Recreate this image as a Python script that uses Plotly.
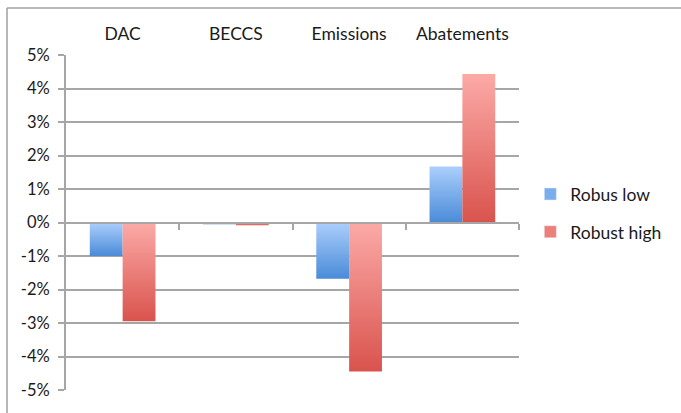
import plotly.graph_objects as go

# Chart data (percent change)
categories = ["DAC", "BECCS", "Emissions", "Abatements"]
series_names = ["Robus low", "Robust high"]
robus_low = [-1.0, -0.05, -1.68, 1.67]
robust_high = [-2.95, -0.08, -4.45, 4.43]
y_tick_values = [5, 4, 3, 2, 1, 0, -1, -2, -3, -4, -5]
y_tick_labels = ["5%", "4%", "3%", "2%", "1%", "0%", "-1%", "-2%", "-3%", "-4%", "-5%"]

# Styling
light = ["#abcffc", "#fcaaa7"]
dark = ["#4a8bd8", "#d9534d"]
solid = ["#7aadec", "#ec7f7a"]
bar_w = 0.29
offsets = [(-bar_w, 0.0), (0.0, bar_w)]
grid_col = "#a6a6a6"
font_family = "Lato, 'Open Sans', sans-serif"

fig = go.Figure()

for s, values in enumerate([robus_low, robust_high]):
    x0, x1 = offsets[s]
    for i, v in enumerate(values):
        lo, hi = min(0.0, v), max(0.0, v)
        fig.add_trace(go.Scatter(
            x=[i + x0, i + x1, i + x1, i + x0, i + x0],
            y=[0, 0, v, v, 0],
            mode="lines",
            fill="toself",
            line=dict(width=0),
            fillgradient=dict(type="vertical",
                              colorscale=[[0, dark[s]], [1, light[s]]],
                              start=lo, stop=hi),
            showlegend=False,
            legendgroup=series_names[s],
            hoverinfo="skip",
        ))
    # legend entry for the series
    fig.add_trace(go.Bar(x=[None], y=[None], name=series_names[s],
                         legendgroup=series_names[s],
                         marker=dict(color=solid[s]), showlegend=True))

# invisible trace that carries the zero-line axis
fig.add_trace(go.Scatter(x=[0, 3], y=[0, 0], mode="none", xaxis="x2",
                         showlegend=False, hoverinfo="skip"))

fig.update_layout(
    width=681, height=413,
    margin=dict(l=66, r=162, t=55, b=23, autoexpand=False),
    paper_bgcolor="white", plot_bgcolor="white",
    font=dict(family=font_family, size=16, color="#1a1a1a"),
    xaxis=dict(
        range=[-0.5, 3.5], side="top", automargin=False,
        tickvals=list(range(len(categories))), ticktext=categories,
        showgrid=False, showline=False, zeroline=False, ticks="",
        ticklabelstandoff=11, tickfont=dict(size=17.5),
    ),
    xaxis2=dict(
        range=[-0.5, 3.5], overlaying="x", anchor="free", position=0.5,
        showline=True, linecolor=grid_col, linewidth=2, automargin=False,
        ticks="outside", ticklen=6, tickwidth=1.5, tickcolor=grid_col,
        tickvals=[0.5, 1.5, 2.5, 3.5], showticklabels=False,
        showgrid=False, zeroline=False,
    ),
    yaxis=dict(
        range=[-5, 5], tickvals=y_tick_values, ticktext=y_tick_labels,
        showgrid=True, gridcolor=grid_col, gridwidth=1.5, automargin=False,
        showline=True, linecolor=grid_col, linewidth=2,
        ticks="outside", ticklen=6, tickwidth=1.5, tickcolor=grid_col,
        zeroline=False, tickfont=dict(size=16.5), ticklabelstandoff=5,
    ),
    legend=dict(
        x=1.025, xanchor="left", y=0.528, yanchor="middle",
        font=dict(size=17.5), tracegroupgap=12, bgcolor="rgba(0,0,0,0)",
    ),
    showlegend=True,
    shapes=[
        dict(type="line", xref="paper", yref="paper",
             x0=-0.1302, x1=1.36, y0=1.1403, y1=1.1403,
             line=dict(color="#a0a0a0", width=1.5)),
        dict(type="line", xref="paper", yref="paper",
             x0=-0.1302, x1=-0.1302, y0=1.1403, y1=-0.08,
             line=dict(color="#a0a0a0", width=1.5)),
    ],
)

fig.write_html("out.html")
